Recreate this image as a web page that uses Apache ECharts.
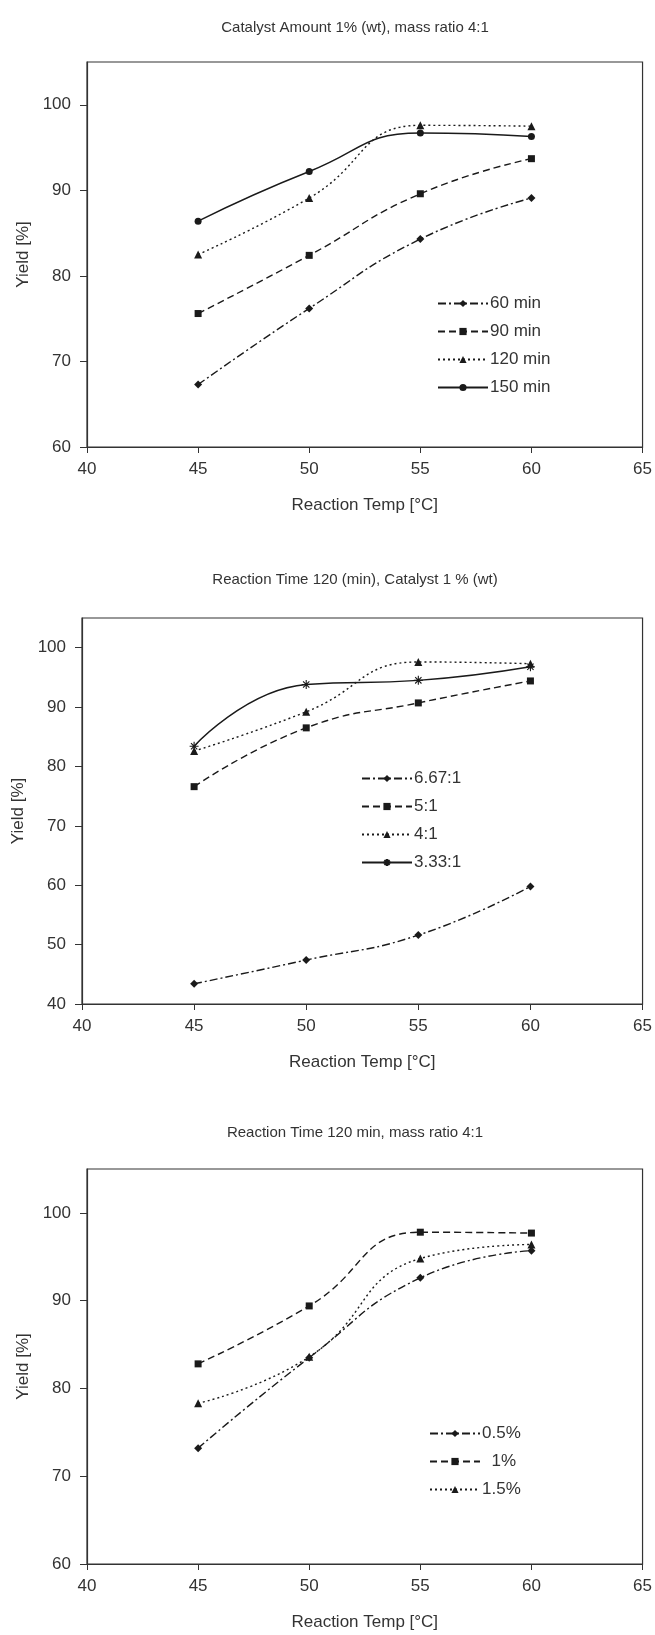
<!DOCTYPE html>
<html>
<head>
<meta charset="utf-8">
<script src="https://cdn.jsdelivr.net/npm/echarts@6/dist/echarts.min.js"></script>
<style>
html,body{margin:0;padding:0;background:#fff;}
#c{width:655px;height:1635px;}
</style>
</head>
<body>
<div id="c"></div>
<script>
// ---- data ----
const temps = [45, 50, 55, 60];
const xTicks = [40, 45, 50, 55, 60, 65];

// Chart 1: Catalyst Amount 1% (wt), mass ratio 4:1
const title1 = 'Catalyst Amount 1% (wt), mass ratio 4:1';
const names1 = ['60 min', '90 min', '120 min', '150 min'];
const time60 = [67.3, 76.2, 84.3, 89.1];
const time90 = [75.6, 82.4, 89.6, 93.7];
const time120 = [82.5, 89.1, 97.6, 97.5];
const time150 = [86.4, 92.2, 96.7, 96.3];
const yTicks1 = [60, 70, 80, 90, 100];

// Chart 2: Reaction Time 120 (min), Catalyst 1 % (wt)
const title2 = 'Reaction Time 120 (min), Catalyst 1 % (wt)';
const names2 = ['6.67:1', '5:1', '4:1', '3.33:1'];
const ratio667 = [43.4, 47.4, 51.6, 59.8];
const ratio5 = [76.6, 86.5, 90.7, 94.4];
const ratio4 = [82.6, 89.2, 97.6, 97.3];
const ratio333 = [83.4, 93.8, 94.5, 96.8];
const yTicks2 = [40, 50, 60, 70, 80, 90, 100];

// Chart 3: Reaction Time 120 min, mass ratio 4:1
const title3 = 'Reaction Time 120 min, mass ratio 4:1';
const names3 = ['0.5%', '  1%', '1.5%'];
const cat05 = [73.2, 83.5, 92.6, 95.7];
const cat1 = [82.8, 89.4, 97.8, 97.7];
const cat15 = [78.3, 83.6, 94.8, 96.4];
const yTicks3 = [60, 70, 80, 90, 100];

// ---- styles ----
const FONT = 'Liberation Sans, Arial, sans-serif';
const INK = '#1a1a1a';
const TXT = '#333';
const DASHDOT = [8, 3, 2, 3];
const DASHED = [7, 4];
const DOTTED = [2, 3];
const ASTER = 'path://M0,5L10,5M5,0L5,10M1.5,1.5L8.5,8.5M8.5,1.5L1.5,8.5';

function pairs(vals) { return temps.map((t, i) => [t, vals[i]]); }

function line(name, vals, idx, dash, symbol, size, extra) {
  const s = {
    name: name, type: 'line', xAxisIndex: idx, yAxisIndex: idx,
    data: pairs(vals), smooth: 0.5,
    symbol: symbol, symbolSize: size,
    lineStyle: { color: INK, width: 1.4, type: dash },
    itemStyle: { color: INK },
    emphasis: { disabled: true },
    animation: false
  };
  return Object.assign(s, extra || {});
}

const grids = [
  { left: 87, right: 12, top: 62, height: 385 },
  { left: 82, right: 12, top: 618, height: 386 },
  { left: 87, right: 12, top: 1169, height: 395 }
];
const yRanges = [[60, 105, yTicks1], [40, 105, yTicks2], [60, 105, yTicks3]];
const yNameGaps = [55, 51, 55];

const option = {
  backgroundColor: '#fff',
  animation: false,
  title: [title1, title2, title3].map((t, i) => ({
    text: t, left: 350, textAlign: 'center',
    top: [15, 567, 1120][i],
    textStyle: { fontFamily: FONT, fontSize: 15, fontWeight: 'normal', color: TXT }
  })),
  grid: grids.map(g => Object.assign({ show: true, borderColor: '#333', borderWidth: 1.2, backgroundColor: 'transparent' }, g)),
  xAxis: grids.map((g, i) => ({
    type: 'value', gridIndex: i, min: 40, max: 65, interval: 5,
    name: 'Reaction Temp [°C]', nameLocation: 'middle', nameGap: 50,
    nameTextStyle: { fontFamily: FONT, fontSize: 17, color: TXT },
    axisLine: { show: true, onZero: false, lineStyle: { color: '#333', width: 1.2 } },
    axisTick: { show: true, length: 6, inside: false, customValues: xTicks, lineStyle: { color: '#333' } },
    axisLabel: { fontFamily: FONT, fontSize: 17, color: TXT, margin: 14, customValues: xTicks },
    splitLine: { show: false }
  })),
  yAxis: yRanges.map((r, i) => ({
    type: 'value', gridIndex: i, min: r[0], max: r[1], interval: 10,
    name: 'Yield [%]', nameLocation: 'middle', nameGap: yNameGaps[i], nameRotate: 90,
    nameTextStyle: { fontFamily: FONT, fontSize: 17, color: TXT },
    axisLine: { show: true, onZero: false, lineStyle: { color: '#333', width: 1.2 } },
    axisTick: { show: true, length: 7, inside: false, customValues: r[2], lineStyle: { color: '#333' } },
    axisLabel: { fontFamily: FONT, fontSize: 17, color: TXT, margin: 16, customValues: r[2] },
    splitLine: { show: false }
  })),
  legend: [
    { data: names1, left: 432, top: 290 },
    { data: names2, left: 356, top: 765 },
    { data: names3, left: 424, top: 1420 }
  ].map(l => Object.assign({
    orient: 'vertical', itemWidth: 50, itemHeight: 9, itemGap: 11,
    textStyle: { fontFamily: FONT, fontSize: 17, color: TXT, padding: [0, 0, 0, -3] },
    selectedMode: false
  }, l)),
  series: [
    line(names1[0], time60, 0, DASHDOT, 'diamond', 8),
    line(names1[1], time90, 0, DASHED, 'rect', 7),
    line(names1[2], time120, 0, DOTTED, 'triangle', 8),
    line(names1[3], time150, 0, 'solid', 'circle', 7),
    line(names2[0], ratio667, 1, DASHDOT, 'diamond', 8),
    line(names2[1], ratio5, 1, DASHED, 'rect', 7),
    line(names2[2], ratio4, 1, DOTTED, 'triangle', 8),
    line(names2[3], ratio333, 1, 'solid', ASTER, 9, { itemStyle: { color: INK, borderColor: INK, borderWidth: 1.1 } }),
    line(names3[0], cat05, 2, DASHDOT, 'diamond', 8),
    line(names3[1], cat1, 2, DASHED, 'rect', 7),
    line(names3[2], cat15, 2, DOTTED, 'triangle', 8)
  ]
};

const chart = echarts.init(document.getElementById('c'), null, { renderer: 'canvas' });
chart.setOption(option);
</script>
</body>
</html>
